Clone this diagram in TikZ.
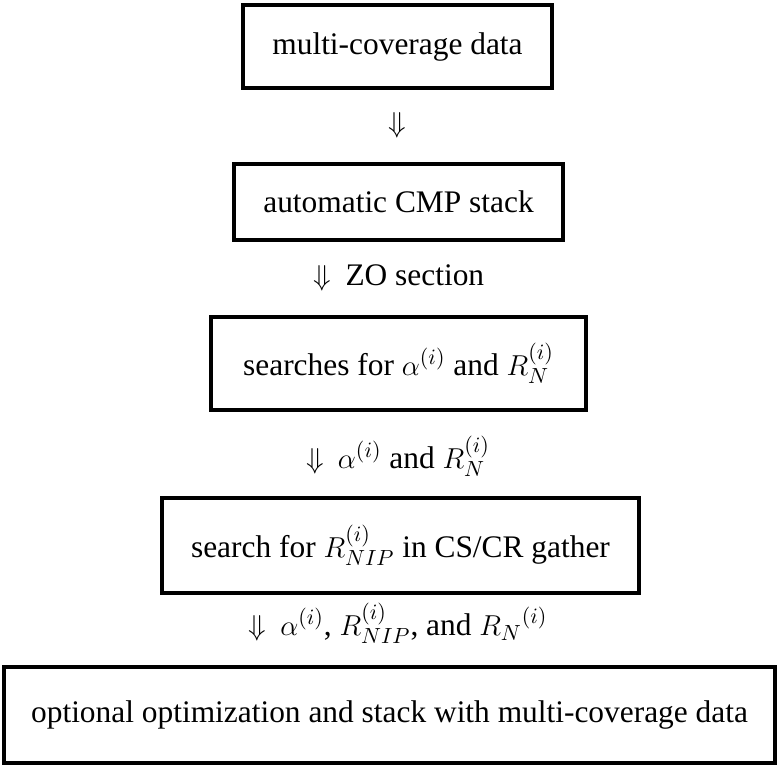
\documentclass[tikz,border=0pt]{standalone}
\usepackage{fontspec}
\setmainfont{Liberation Serif}
\usepackage{tikz}

\begin{document}
\begin{tikzpicture}[x = 0.5pt, y = -0.5pt,
  every node/.style = {font=\fontsize{15.7}{19}\selectfont},
  stage/.style = {draw, line width=1.6pt, inner sep=0pt, align=center},
  flow/.style = {anchor=base}]
\useasboundingbox (0,0) rectangle (779,764);
\node[stage, minimum width=154.5pt, minimum height=41.5pt] (data) at (397.5,46.5) {multi-coverage data};
\node (a1) at (397.5,125) {$\Downarrow$};
\node[stage, minimum width=164.5pt, minimum height=38pt] (cmp) at (398.5,202) {automatic CMP stack};
\node[flow] (a2) at (399,285) {$\Downarrow$\hspace{0.45em}ZO section};
\node[stage, minimum width=187.5pt, minimum height=46.5pt] (srch) at (398.5,363.5) {searches for $\alpha^{(i)}$ and $R_N^{(i)}$};
\node[flow] (a3) at (398,468) {$\Downarrow$\hspace{0.45em}$\alpha^{(i)}$ and $R_N^{(i)}$};
\node[stage, minimum width=238.5pt, minimum height=47.5pt] (nip) at (400.5,545.5) {search for $R_{NIP}^{(i)}$ in CS/CR gather};
\node[flow] (a4) at (398,635) {$\Downarrow$\hspace{0.45em}$\alpha^{(i)}$, $R_{NIP}^{(i)}$, and ${R_N}^{(i)}$};
\node[stage, minimum width=385.5pt, minimum height=48pt] (opt) at (389.5,715) {optional optimization and stack with multi-coverage data};
\end{tikzpicture}
\end{document}
